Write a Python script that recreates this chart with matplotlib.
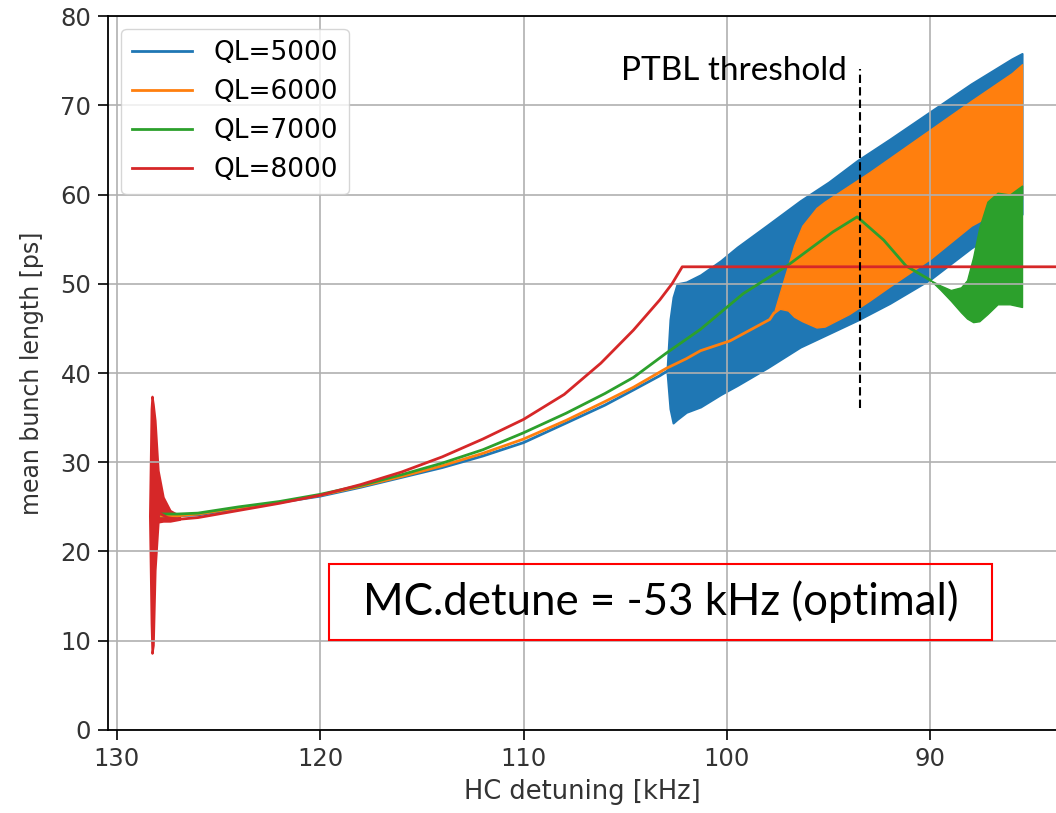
import matplotlib
matplotlib.use("Agg")
from matplotlib import pyplot as plt
from matplotlib.patches import Rectangle

# smooth parts of each run (HC detuning in kHz, mean bunch length in ps)
blue_x = [127.8, 127.0, 126.0, 124.0, 122.0, 120.0, 118.0, 116.0, 114.0, 112.0, 110.0,
          107.9, 106.0, 104.6, 103.3, 102.95]
blue_y = [24.0, 24.0, 24.1, 24.8, 25.5, 26.2, 27.2, 28.3, 29.4, 30.7, 32.2,
          34.4, 36.4, 38.1, 39.7, 40.2]

orange_x = [127.8, 127.0, 126.0, 124.0, 122.0, 120.0, 118.0, 116.0, 114.0, 112.0, 110.0,
            107.9, 106.0, 104.6, 103.0, 102.0, 101.3, 99.85, 97.9, 97.7]
orange_y = [24.0, 24.0, 24.2, 24.9, 25.5, 26.3, 27.3, 28.4, 29.6, 31.0, 32.6,
            34.7, 36.8, 38.4, 40.5, 41.6, 42.5, 43.6, 46.0, 46.7]

green_x = [127.8, 127.0, 126.0, 124.0, 122.0, 120.0, 118.0, 116.0, 114.0, 112.0, 110.0,
           107.9, 106.0, 104.6, 103.0, 101.3, 99.2, 97.05, 94.8, 93.6, 92.3, 91.2, 90.0]
green_y = [24.2, 24.2, 24.3, 25.0, 25.6, 26.4, 27.4, 28.6, 29.9, 31.4, 33.3,
           35.5, 37.7, 39.5, 42.2, 44.9, 48.9, 52.0, 55.8, 57.5, 54.9, 52.0, 50.4]

red_x = [128.2, 127.9, 127.5, 127.0, 126.0, 124.0, 122.0, 120.0, 118.0, 116.0, 114.0,
         112.0, 110.0, 108.0, 106.2, 104.6, 103.3, 102.7, 102.2, 83.0]
red_y = [24.0, 24.3, 23.8, 23.6, 23.8, 24.6, 25.4, 26.3, 27.5, 28.9, 30.6,
         32.6, 34.8, 37.6, 41.1, 44.8, 48.2, 50.0, 51.9, 51.9]

# envelopes of the fast-oscillating parts
blue_band_x = [102.95, 102.8, 102.65, 102.45, 102.0, 101.3, 100.3, 99.5, 98.0, 96.4, 95.0,
               93.6, 92.0, 90.0, 88.0, 86.0, 85.5]
blue_band_hi = [40.2, 46.0, 48.5, 50.0, 50.2, 51.0, 52.6, 54.1, 56.6, 59.3, 61.4,
                63.8, 66.2, 69.3, 72.4, 75.2, 75.8]
blue_band_lo = [40.2, 36.0, 34.4, 34.8, 35.6, 36.2, 37.6, 38.6, 40.6, 42.9, 44.4,
                45.9, 47.8, 50.5, 54.0, 57.0, 57.8]

orange_band_x = [97.7, 97.4, 97.0, 96.7, 96.3, 95.6, 95.2, 94.0, 93.0, 92.0, 90.0,
                 88.0, 86.0, 85.5]
orange_band_hi = [46.7, 49.0, 52.0, 54.3, 56.5, 58.5, 59.2, 61.0, 62.5, 64.1, 67.3,
                  70.5, 73.6, 74.6]
orange_band_lo = [46.7, 47.2, 47.0, 46.3, 45.8, 45.1, 45.2, 46.6, 48.1, 49.7, 52.8,
                  56.5, 59.0, 59.5]

green_band_x = [90.0, 89.5, 89.0, 88.5, 88.2, 87.9, 87.6, 87.2, 86.7, 86.1, 85.5]
green_band_hi = [50.4, 49.8, 49.3, 49.6, 50.4, 53.0, 56.3, 59.2, 60.2, 60.0, 61.0]
green_band_lo = [50.4, 49.3, 48.1, 46.8, 46.1, 45.7, 45.8, 46.6, 47.7, 47.7, 47.4]

red_spike_x = [128.38, 128.3, 128.26, 128.2, 128.11, 127.96, 127.71, 127.37, 126.9]
red_spike_hi = [24.0, 36.0, 37.4, 36.5, 34.7, 29.1, 26.1, 24.6, 24.0]
red_spike_lo = [24.0, 12.0, 8.6, 9.5, 17.9, 23.3, 23.4, 23.4, 23.6]

labels = ["QL=5000", "QL=6000", "QL=7000", "QL=8000"]
colors = ["#1f77b4", "#ff7f0e", "#2ca02c", "#d62728"]

threshold_x = 93.45
threshold_y = [36.1, 74.1]

fig = plt.figure(figsize=(10.56, 8.13), dpi=100)
ax = fig.add_axes([0.1023, 0.1021, 0.8977, 0.8782])

lw = 2.0
ax.plot(blue_x, blue_y, color=colors[0], lw=lw, label=labels[0])
ax.fill_between(blue_band_x, blue_band_lo, blue_band_hi, color=colors[0], lw=1.5, edgecolor=colors[0])
ax.plot(orange_x, orange_y, color=colors[1], lw=lw, label=labels[1])
ax.fill_between(orange_band_x, orange_band_lo, orange_band_hi, color=colors[1], lw=1, edgecolor=colors[1])
ax.plot(green_x, green_y, color=colors[2], lw=lw, label=labels[2])
ax.fill_between(green_band_x, green_band_lo, green_band_hi, color=colors[2], lw=1, edgecolor=colors[2])
ax.plot(red_x, red_y, color=colors[3], lw=lw, label=labels[3])
ax.fill_between(red_spike_x, red_spike_lo, red_spike_hi, color=colors[3], lw=1.5, edgecolor=colors[3])

ax.plot([threshold_x, threshold_x], threshold_y, color="black", lw=1.5, ls=(0, (4, 2)))
ax.text(105.2, 72.8, "PTBL threshold", fontsize=24, family=["Lato", "DejaVu Sans"])

ax.add_patch(Rectangle((0.2326, 0.126), 0.700, 0.1064, transform=ax.transAxes,
                       fill=False, edgecolor="red", lw=1.5, zorder=5))
ax.text(0.2326 + 0.35, 0.126 + 0.0532, "MC.detune = -53 kHz (optimal)", transform=ax.transAxes,
        fontsize=31.5, ha="center", va="center", family=["Lato", "DejaVu Sans"], zorder=6)

ax.set_xlim(130.42, 83.83)
ax.set_ylim(0, 80)
ax.set_xticks([130, 120, 110, 100, 90])
ax.set_yticks(range(0, 81, 10))
ax.tick_params(labelsize=17.5, length=7, width=1.2, pad=5, labelcolor="#333333")
ax.grid(True, color="#b0b0b0", lw=1.2)
ax.spines["right"].set_visible(False)
for side in ["left", "bottom", "top"]:
    ax.spines[side].set_linewidth(1.3)
ax.set_xlabel("HC detuning [kHz]", fontsize=18.5, color="#333333", labelpad=6)
ax.set_ylabel("mean bunch length [ps]", fontsize=17, color="#333333", labelpad=12)
ax.legend(loc="upper left", fontsize=19, handlelength=2.3)

fig.savefig("out.png", dpi=100)
